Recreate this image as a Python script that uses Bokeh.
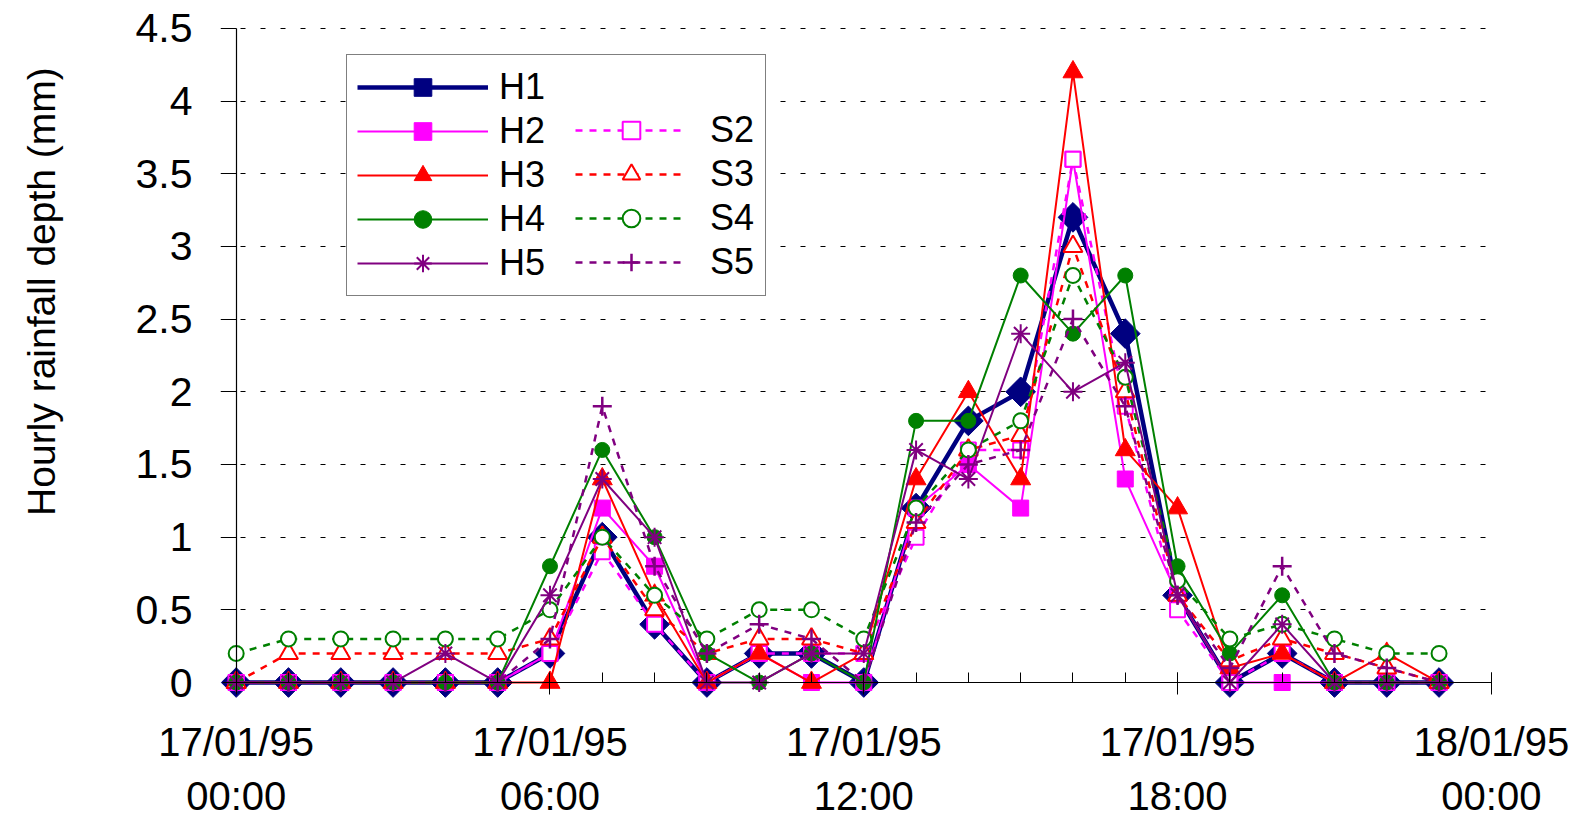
import numpy as np
from bokeh.plotting import figure
from bokeh.models import (Range1d, FixedTicker, NumeralTickFormatter, Legend, LegendItem,
                          LinearAxis, CustomJSTickFormatter)
from bokeh.embed import file_html
from bokeh.resources import INLINE

# ---------------- data ----------------
hours = list(range(24))
H1 = [0, 0, 0, 0, 0, 0, 0.2, 1.0, 0.4, 0, 0.2, 0.2, 0, 1.2, 1.8, 2.0, 3.2, 2.4, 0.6, 0, 0.2, 0, 0, 0]
H2 = [0, 0, 0, 0, 0, 0, 0.2, 1.2, 0.8, 0, 0.2, 0, 0, 1.2, 1.5, 1.2, 3.6, 1.4, 0.6, 0, 0, 0, 0, 0]
H3 = [0, 0, 0, 0, 0, 0, 0, 1.4, 0.6, 0, 0.2, 0, 0.2, 1.4, 2.0, 1.4, 4.2, 1.6, 1.2, 0.1, 0.2, 0, 0.2, 0]
H4 = [0, 0, 0, 0, 0, 0, 0.8, 1.6, 1.0, 0.2, 0, 0.2, 0, 1.8, 1.8, 2.8, 2.4, 2.8, 0.8, 0.2, 0.6, 0, 0, 0]
H5 = [0, 0, 0, 0, 0.2, 0, 0.6, 1.4, 1.0, 0, 0, 0.2, 0.2, 1.6, 1.4, 2.4, 2.0, 2.2, 0.6, 0, 0.4, 0, 0, 0]
S2 = [0, 0, 0, 0, 0, 0, 0.2, 0.9, 0.4, 0, 0.2, 0.2, 0.2, 1.0, 1.6, 1.6, 3.6, 1.9, 0.5, 0, 0.2, 0, 0, 0]
S3 = [0, 0.2, 0.2, 0.2, 0.2, 0.2, 0.3, 1.0, 0.5, 0.2, 0.3, 0.3, 0.2, 1.1, 1.6, 1.7, 3.0, 2.0, 0.6, 0.15, 0.3, 0.2, 0.1, 0]
S4 = [0.2, 0.3, 0.3, 0.3, 0.3, 0.3, 0.5, 1.0, 0.6, 0.3, 0.5, 0.5, 0.3, 1.2, 1.6, 1.8, 2.8, 2.1, 0.7, 0.3, 0.4, 0.3, 0.2, 0.2]
S5 = [0, 0, 0, 0, 0, 0, 0.3, 1.9, 0.8, 0.2, 0.4, 0.3, 0, 1.1, 1.5, 1.6, 2.5, 1.9, 0.6, 0.1, 0.8, 0.2, 0.1, 0]

x_tick_values = [0, 6, 12, 18, 24]
x_tick_labels = ["17/01/95\n00:00", "17/01/95\n06:00", "17/01/95\n12:00",
                 "17/01/95\n18:00", "18/01/95\n00:00"]
x_minor_ticks = list(range(25))
y_tick_values = [0, 0.5, 1, 1.5, 2, 2.5, 3, 3.5, 4, 4.5]
y_label = "Hourly rainfall depth (mm)"

FONT = "Liberation Sans"

# ---------------- styles ----------------
NAVY, MAG, RED, GRN, PUR = "#000080", "#FF00FF", "#FF0000", "#008000", "#800080"
styles = {
    "H1": dict(color=NAVY, width=4.5, dash="solid", marker="square", size=21, angle=np.pi / 4, fill=NAVY, lw=1),
    "H2": dict(color=MAG, width=2, dash="solid", marker="square", size=16, angle=0, fill=MAG, lw=1),
    "S2": dict(color=MAG, width=2.5, dash="7 7", marker="square", size=15, angle=0, fill="white", lw=2),
    "H3": dict(color=RED, width=2, dash="solid", marker="triangle", size=20, angle=0, fill=RED, lw=1),
    "S3": dict(color=RED, width=2.5, dash="7 7", marker="triangle", size=19, angle=0, fill="white", lw=2),
    "H4": dict(color=GRN, width=2, dash="solid", marker="circle", size=15, angle=0, fill=GRN, lw=1),
    "S4": dict(color=GRN, width=2.5, dash="7 7", marker="circle", size=15, angle=0, fill="white", lw=2),
    "H5": dict(color=PUR, width=2, dash="solid", marker="asterisk", size=19, angle=0, fill=None, lw=2),
    "S5": dict(color=PUR, width=2.5, dash="7 7", marker="cross", size=19, angle=0, fill=None, lw=2.5),
}
series = {"H1": H1, "H2": H2, "S2": S2, "H3": H3, "S3": S3, "H4": H4, "S4": S4, "H5": H5, "S5": S5}

# ---------------- figure ----------------
p = figure(width=1591, height=822, output_backend="svg", toolbar_location=None, title=None,
           x_range=Range1d(-0.3, 24.06), y_range=Range1d(-0.11, 4.52),
           min_border_left=220, min_border_right=97, min_border_top=25, min_border_bottom=124)
p.outline_line_color = None
p.background_fill_color = "white"
p.border_fill_color = "white"

blank = CustomJSTickFormatter(code="return ''")

# axis lines and ticks drawn at x=0 / y=0
xa = p.xaxis[0]
xa.ticker = FixedTicker(ticks=x_tick_values, minor_ticks=x_minor_ticks)
xa.formatter = blank
xa.fixed_location = 0
xa.bounds = (0, 24)
xa.axis_line_color = "black"
xa.axis_line_width = 1.2
xa.major_tick_in = 10
xa.major_tick_out = 12
xa.minor_tick_in = 10
xa.minor_tick_out = 0
xa.major_tick_line_color = "black"
xa.minor_tick_line_color = "black"

ya = p.yaxis[0]
ya.ticker = FixedTicker(ticks=y_tick_values)
ya.formatter = blank
ya.fixed_location = 0
ya.bounds = (0, 4.5)
ya.axis_line_color = "black"
ya.axis_line_width = 1.2
ya.major_tick_in = 0
ya.major_tick_out = 14
ya.minor_tick_line_color = None
ya.major_tick_line_color = "black"

# label-only axes at the frame edges
xl = LinearAxis(ticker=FixedTicker(ticks=x_tick_values),
                major_label_overrides=dict(zip(x_tick_values, x_tick_labels)),
                axis_line_color=None, major_tick_line_color=None, minor_tick_line_color=None,
                major_tick_in=0, major_tick_out=0, major_label_standoff=21,
                major_label_text_font=FONT, major_label_text_font_size="40px",
                major_label_text_color="black", major_label_text_line_height=1.23)
p.add_layout(xl, "below")

# the axis title sits above the middle of the frame, as in the original
yl = LinearAxis(ticker=FixedTicker(ticks=y_tick_values),
                formatter=NumeralTickFormatter(format="0.[0]"),
                axis_line_color=None, major_tick_line_color=None, minor_tick_line_color=None,
                major_tick_in=0, major_tick_out=0, major_label_standoff=28,
                major_label_text_font=FONT, major_label_text_font_size="41px",
                major_label_text_color="black",
                axis_label="\u00a0" * 13 + y_label, axis_label_standoff=70,
                axis_label_text_font=FONT, axis_label_text_font_size="39px",
                axis_label_text_font_style="normal", axis_label_text_color="black")
p.add_layout(yl, "left")

p.xgrid.visible = False
p.ygrid.ticker = FixedTicker(ticks=y_tick_values[1:])
p.ygrid.grid_line_color = "black"
p.ygrid.grid_line_width = 1
p.ygrid.grid_line_dash = "5 15"

renderers = {}
for name, vals in series.items():
    st = styles[name]
    rl = p.line(hours, vals, line_color=st["color"], line_width=st["width"], line_dash=st["dash"])
    kw = dict(marker=st["marker"], size=st["size"], angle=st["angle"],
              line_color=st["color"], line_width=st["lw"])
    if st["fill"] is None:
        kw["fill_alpha"] = 0
    else:
        kw["fill_color"] = st["fill"]
    rm = p.scatter(hours, vals, **kw)
    renderers[name] = [rl, rm]

legend_h = Legend(
    items=[LegendItem(label=n, renderers=renderers[n]) for n in ["H1", "H2", "H3", "H4", "H5"]],
    location=(126, 402), orientation="vertical",
    glyph_width=131, glyph_height=44, label_height=40, label_width=256,
    spacing=0, padding=10, margin=0, label_standoff=11,
    border_line_color="black", border_line_width=1,
    background_fill_color="white", background_fill_alpha=1,
    label_text_font=FONT, label_text_font_size="36px", label_text_color="black",
)
legend_s = Legend(
    items=[LegendItem(label=n, renderers=renderers[n]) for n in ["S2", "S3", "S4", "S5"]],
    location=(355, 414), orientation="vertical",
    glyph_width=112, glyph_height=44, label_height=40,
    spacing=0, padding=0, margin=0, label_standoff=23,
    border_line_color=None, background_fill_alpha=0,
    label_text_font=FONT, label_text_font_size="36px", label_text_color="black",
)
p.add_layout(legend_h)
p.add_layout(legend_s)

open("out.html", "w").write(file_html(p, INLINE))
